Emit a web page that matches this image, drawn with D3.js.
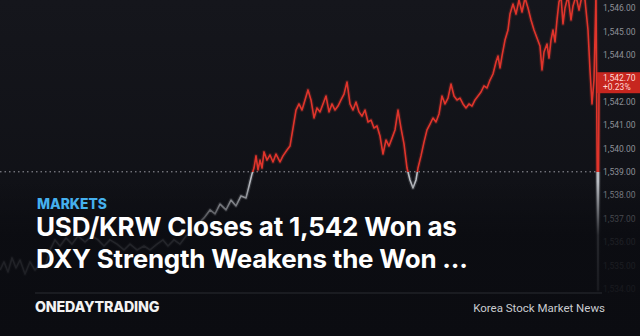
<!DOCTYPE html>
<html>
<head>
<meta charset="utf-8">
<script src="https://cdn.jsdelivr.net/npm/d3@7"></script>
<style>
  html, body { margin: 0; padding: 0; background: #0c0d12; }
  svg { display: block; }
</style>
</head>
<body>
<div id="chart"></div>
<script>
const width = 640, height = 336;

// session time (minutes) and USD/KRW quotes
const times = [0,4,8,12,16,20,25,30,35,40,45,50,55,60,66,72,78,85,92,98,104,110,117,124,130,137,144,150,157,163,168,174,180,186,192,198,204,210,215,220,226,231,236,241,246,249,252,254,256,258,260,262,264,267,270,273,276,280,283,287,290,293,296,299,302,305,308,311,314,317,320,323,326,329,332,335,338,341,344,347,350,353,356,359,362,365,368,371,374,377,380,383,386,389,392,395,398,401,404,407,410,413,416,418,421,424,427,430,433,436,439,442,445,448,451,454,457,460,463,466,469,472,475,478,481,484,487,490,493,496,498,500,502,505,508,510,513,516,519,522,525,528,531,534,537,540,542,544,547,549,551,553,555,557,559,561,563,565,568,571,573,576,579,582,585,588,590,592,594,596,598,599];
const quotes = [1534.80,1535.15,1534.72,1535.32,1534.89,1535.23,1534.63,1535.15,1534.80,1535.06,1534.89,1535.66,1536.09,1535.83,1536.17,1535.91,1536.26,1536.00,1536.26,1536.09,1535.83,1536.09,1535.91,1535.66,1535.91,1535.66,1535.83,1535.66,1535.91,1536.09,1535.83,1536.09,1535.91,1536.26,1536.43,1536.77,1537.03,1537.37,1537.20,1537.62,1537.37,1537.79,1537.54,1537.97,1537.88,1538.39,1538.91,1539.16,1539.68,1539.08,1539.50,1539.16,1539.85,1539.50,1539.72,1539.42,1539.76,1539.42,1539.68,1539.93,1540.10,1540.87,1541.64,1541.90,1541.64,1542.07,1542.50,1542.07,1541.30,1541.73,1541.56,1541.90,1542.24,1541.56,1541.90,1541.64,1541.81,1542.07,1542.32,1542.84,1541.90,1541.64,1541.98,1541.56,1541.38,1541.64,1541.13,1541.21,1540.87,1540.96,1540.53,1539.76,1540.36,1540.10,1540.44,1540.79,1541.64,1540.87,1540.19,1539.16,1538.65,1538.31,1538.65,1539.16,1539.68,1540.27,1540.79,1541.04,1541.30,1541.13,1541.47,1542.24,1541.90,1542.15,1542.75,1542.24,1542.07,1542.15,1541.90,1541.73,1541.90,1541.81,1542.07,1542.24,1542.41,1542.67,1542.58,1542.92,1543.18,1543.69,1543.95,1543.44,1543.95,1544.63,1545.06,1545.74,1546.17,1545.74,1546.34,1545.83,1546.43,1546.00,1545.49,1545.06,1544.72,1544.38,1543.35,1544.12,1544.46,1543.86,1544.63,1545.06,1544.55,1545.49,1546.26,1546.51,1545.32,1546.00,1546.51,1545.49,1546.09,1546.51,1545.91,1546.51,1546.34,1545.06,1543.35,1541.90,1542.92,1546.60,1533.95,1542.70];

const prevClose = 1539;
const lastPrice = "1,542.70";
const lastChange = "+0.23%";
const yTicks = [1534,1535,1536,1537,1538,1539,1540,1541,1542,1543,1544,1545,1546];

const category = "MARKETS";
const titleLines = ["USD/KRW Closes at 1,542 Won as", "DXY Strength Weakens the Won ..."];
const brand = "ONEDAYTRADING";
const tagline = "Korea Stock Market News";

const data = times.map((t, i) => ({ t: t, v: quotes[i] }));

const svg = d3.select("#chart").append("svg")
  .attr("width", width).attr("height", height);

const defs = svg.append("defs");

// background
const bg = defs.append("linearGradient").attr("id", "bg")
  .attr("x1", 0).attr("y1", 0).attr("x2", 0).attr("y2", 1);
bg.append("stop").attr("offset", "0%").attr("stop-color", "#15161c");
bg.append("stop").attr("offset", "100%").attr("stop-color", "#0d0e13");
svg.append("rect").attr("width", width).attr("height", height).attr("fill", "url(#bg)");

const x = d3.scaleLinear().domain([0, 600]).range([0, 600]);
const y = d3.scaleLinear().domain([1546, 1534]).range([8, 288.8]);

// line coloured against previous close
const lg = defs.append("linearGradient").attr("id", "lineCol")
  .attr("gradientUnits", "userSpaceOnUse")
  .attr("x1", 0).attr("x2", 0).attr("y1", 0).attr("y2", height);
const split = y(prevClose) / height;
lg.append("stop").attr("offset", split).attr("stop-color", "#e0342b");
lg.append("stop").attr("offset", split).attr("stop-color", "#b9bcc2");

// previous close dotted line
svg.append("line")
  .attr("x1", 0).attr("x2", x(598))
  .attr("y1", y(prevClose)).attr("y2", y(prevClose))
  .attr("stroke", "#9a9ca3").attr("stroke-width", 1)
  .attr("stroke-dasharray", "1.5,3");

const line = d3.line().x(d => x(d.t)).y(d => y(d.v));

svg.append("path").datum(data)
  .attr("d", line)
  .attr("fill", "none")
  .attr("stroke", "url(#lineCol)")
  .attr("stroke-width", 4)
  .attr("stroke-opacity", 0.18)
  .attr("stroke-linejoin", "round");

svg.append("path").datum(data)
  .attr("d", line)
  .attr("fill", "none")
  .attr("stroke", "url(#lineCol)")
  .attr("stroke-width", 1.6)
  .attr("stroke-linejoin", "round");

// right price axis
const axis = svg.append("g")
  .attr("transform", "translate(601,0)")
  .call(d3.axisRight(y).tickValues(yTicks).tickSize(0).tickPadding(2).tickFormat(d3.format(",.2f")));
axis.select(".domain").remove();
axis.selectAll("text")
  .attr("fill", "#8d9097")
  .style("font-family", "'Liberation Sans Narrow', 'Roboto', sans-serif")
  .style("font-size", "8.5px");

// last price tag
const tag = svg.append("g").attr("transform", `translate(597,${y(1542.7) - 13})`);
tag.append("rect").attr("width", 43).attr("height", 21).attr("fill", "#c7261f");
tag.append("text").attr("x", 6).attr("y", 9).text(lastPrice)
  .attr("fill", "#ffd9d5").style("font-family", "'Liberation Sans Narrow', Roboto, sans-serif").style("font-size", "8.5px");
tag.append("text").attr("x", 6).attr("y", 18).text(lastChange)
  .attr("fill", "#ffd9d5").style("font-family", "'Liberation Sans Narrow', Roboto, sans-serif").style("font-size", "8.5px");

// dark overlay for the caption area
const ov = defs.append("linearGradient").attr("id", "ov")
  .attr("x1", 0).attr("y1", 0).attr("x2", 0).attr("y2", 1);
ov.append("stop").attr("offset", "0%").attr("stop-color", "#0b0c11").attr("stop-opacity", 0);
ov.append("stop").attr("offset", "54%").attr("stop-color", "#0b0c11").attr("stop-opacity", 0);
ov.append("stop").attr("offset", "70%").attr("stop-color", "#0b0c11").attr("stop-opacity", 0.85);
ov.append("stop").attr("offset", "100%").attr("stop-color", "#0b0c11").attr("stop-opacity", 0.95);
svg.append("rect").attr("width", width).attr("height", height).attr("fill", "url(#ov)");

// captions
const font = "Inter, 'Open Sans', sans-serif";

// scale a text so that it spans the given width
function fit(t, size, w) {
  const m = t.node().getComputedTextLength();
  t.style("font-size", (size * w / m).toFixed(2) + "px");
}

const cat = svg.append("text").attr("x", 37).attr("y", 209).text(category)
  .attr("fill", "#45b0ee").style("font-family", font).style("font-weight", 800).style("font-size", "13px");
fit(cat, 13, 70);

const titleW = [420, 431];
titleLines.forEach((s, i) => {
  const t = svg.append("text").attr("x", 36).attr("y", 236 + i * 32).text(s)
    .attr("fill", "#ffffff").style("font-family", font).style("font-weight", 700).style("font-size", "23px")
    .style("letter-spacing", "-0.2px");
  fit(t, 23, titleW[i]);
});

svg.append("line").attr("x1", 35).attr("x2", 602).attr("y1", 293).attr("y2", 293)
  .attr("stroke", "#2a2c33").attr("stroke-width", 1);

const br = svg.append("text").attr("x", 35).attr("y", 312).text(brand)
  .attr("fill", "#f2f2f2").style("font-family", font).style("font-weight", 800).style("font-size", "13px")
  .style("letter-spacing", "-0.2px");
fit(br, 13, 124);
const tl = svg.append("text").attr("x", 605).attr("y", 312).attr("text-anchor", "end").text(tagline)
  .attr("fill", "#c9cbd0").style("font-family", "Roboto, sans-serif").style("font-size", "11px");
fit(tl, 11, 132);
</script>
</body>
</html>
